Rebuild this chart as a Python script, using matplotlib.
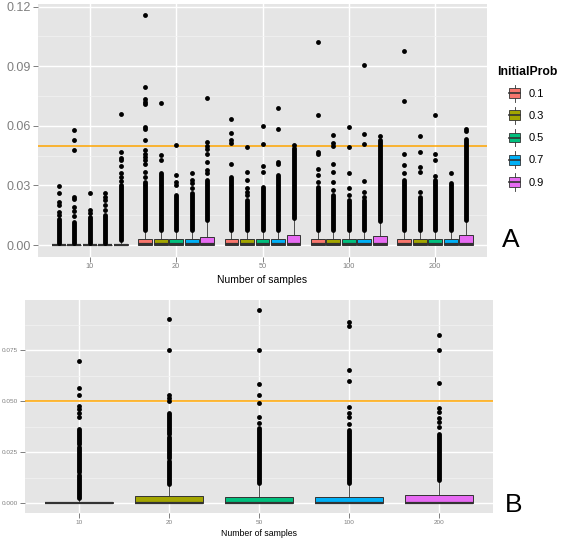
import matplotlib
matplotlib.use('Agg')
import matplotlib.pyplot as plt
from matplotlib.patches import Rectangle, Patch
from matplotlib.lines import Line2D
from matplotlib.legend_handler import HandlerBase
import numpy as np

plt.rcParams['font.family'] = ['Liberation Sans', 'DejaVu Sans']

sample_sizes = ['10', '20', '50', '100', '200']
init_probs = ['0.1', '0.3', '0.5', '0.7', '0.9']
threshold = 0.05

# ---- panel A: rows = number of samples, cols = InitialProb ----
a_med = [
    [0.0, 0.0, 0.0, 0.0, 0.0002],
    [0.0004, 0.0004, 0.0004, 0.0004, 0.0006],
    [0.0004, 0.0004, 0.0004, 0.0004, 0.0006],
    [0.0004, 0.0004, 0.0004, 0.0004, 0.0006],
    [0.0004, 0.0004, 0.0004, 0.0004, 0.0006],
]
a_q3 = [
    [0.0, 0.0, 0.0, 0.0, 0.0007],
    [0.0030, 0.0030, 0.0030, 0.0030, 0.0042],
    [0.0030, 0.0030, 0.0030, 0.0030, 0.0050],
    [0.0030, 0.0030, 0.0030, 0.0030, 0.0045],
    [0.0030, 0.0030, 0.0030, 0.0030, 0.0048],
]
a_whishi = [
    [0.0, 0.0, 0.0, 0.0, 0.0017],
    [0.0068, 0.0068, 0.0068, 0.0068, 0.0115],
    [0.0068, 0.0068, 0.0068, 0.0068, 0.0125],
    [0.0068, 0.0068, 0.0068, 0.0068, 0.0110],
    [0.0068, 0.0068, 0.0068, 0.0068, 0.0115],
]
# runs of outliers so dense that the dots merge into a column
a_dense = [
    [[(0.0008, 0.0130)], [(0.0008, 0.0117)], [(0.0008, 0.0142)], [(0.0008, 0.0150)], [(0.0025, 0.0300)]],
    [[(0.0076, 0.0318)], [(0.0076, 0.0360)], [(0.0076, 0.0250)], [(0.0076, 0.0260)], [(0.0125, 0.0326)]],
    [[(0.0076, 0.0343)], [(0.0076, 0.0226)], [(0.0076, 0.0293)], [(0.0076, 0.0351)], [(0.0135, 0.0490)]],
    [[(0.0076, 0.0293)], [(0.0076, 0.0250)], [(0.0076, 0.0226)], [(0.0076, 0.0226)], [(0.0120, 0.0530)]],
    [[(0.0076, 0.0326)], [(0.0076, 0.0243)], [(0.0076, 0.0326)], [(0.0076, 0.0313)], [(0.0125, 0.0535)]],
]
a_sparse = [
    [[0.0296, 0.026, 0.0215, 0.020, 0.0167, 0.015],
     [0.058, 0.053, 0.0477, 0.0243, 0.023, 0.019, 0.017, 0.0145],
     [0.026, 0.0176, 0.016],
     [0.026, 0.024, 0.0226, 0.020, 0.0176],
     [0.066, 0.0469, 0.044, 0.0427, 0.040, 0.036, 0.034, 0.032]],
    [[0.1155, 0.0795, 0.0735, 0.072, 0.0708, 0.0594, 0.0586, 0.0527, 0.0477,
      0.046, 0.0443, 0.0427, 0.041, 0.0368, 0.0343],
     [0.0716, 0.0452, 0.043],
     [0.0502, 0.0351, 0.0318, 0.030],
     [0.036, 0.0326, 0.031, 0.0285],
     [0.0741, 0.0519, 0.050, 0.0485, 0.046, 0.042, 0.038, 0.036]],
    [[0.0636, 0.0564, 0.0527, 0.0514, 0.041],
     [0.0494, 0.0368, 0.0326, 0.0285, 0.0265, 0.025],
     [0.0599, 0.051, 0.0397, 0.0368],
     [0.0691, 0.0586, 0.042, 0.041],
     [0.0502]],
    [[0.102, 0.0653, 0.0469, 0.0457, 0.0385, 0.0351, 0.0318],
     [0.0556, 0.0514, 0.0497, 0.041, 0.0365, 0.0318, 0.0276],
     [0.0592, 0.0494, 0.036, 0.0285, 0.025],
     [0.0904, 0.0557, 0.051, 0.0323, 0.0268, 0.0243],
     [0.0548]],
    [[0.0976, 0.0725, 0.0457, 0.0402, 0.036],
     [0.0547, 0.0469, 0.0393, 0.0368, 0.0268],
     [0.0653, 0.046, 0.0427, 0.0346],
     [0.036],
     [0.0586, 0.0572]],
]

# ---- panel B: one box per number of samples ----
b_med = [0.0, 0.0003, 0.0003, 0.0003, 0.0004]
b_q3 = [0.0007, 0.0034, 0.0032, 0.0032, 0.0040]
b_whishi = [0.0018, 0.0088, 0.0090, 0.0093, 0.0103]
b_dense = [
    [(0.0025, 0.0137), (0.0152, 0.0275), (0.0290, 0.0363)],
    [(0.0095, 0.0205), (0.0220, 0.0324), (0.0340, 0.0441)],
    [(0.0098, 0.0368)],
    [(0.0100, 0.0359)],
    [(0.0112, 0.0342)],
]
b_sparse = [
    [0.0696, 0.0564, 0.0529, 0.0475, 0.046, 0.0441, 0.0422],
    [0.0905, 0.075, 0.0529, 0.0518, 0.050],
    [0.0949, 0.075, 0.0583, 0.0529, 0.049, 0.0421, 0.0392],
    [0.0889, 0.0869, 0.0652, 0.0598, 0.0473, 0.0443, 0.0424, 0.039],
    [0.0823, 0.075, 0.059, 0.0465, 0.0448, 0.0416, 0.040, 0.0375],
]

hue_colors = ['#F8766D', '#A3A500', '#00BF7D', '#00B0F6', '#E76BF3']
PANEL_BG = '#E5E5E5'
DARK = '#333333'
GREY = '#7F7F7F'
DOT = 3.5


def style_panel(ax, yticks, yfmt, ysize, xsize):
    ax.set_facecolor(PANEL_BG)
    for s in ax.spines.values():
        s.set_visible(False)
    ax.set_xlim(0.4, 5.6)
    ax.set_xticks(range(1, 6))
    ax.set_xticklabels(sample_sizes)
    ax.set_yticks(yticks)
    ax.set_yticklabels([yfmt.format(v) for v in yticks])
    step = yticks[1] - yticks[0]
    ax.set_yticks([v + step / 2 for v in yticks], minor=True)
    ax.grid(which='major', color='white', lw=1.0)
    ax.grid(which='minor', axis='y', color='#F2F2F2', lw=0.5)
    ax.set_axisbelow(True)
    ax.tick_params(which='minor', length=0)
    ax.tick_params(which='major', color=GREY, labelcolor=GREY, length=3.5, width=0.7, pad=1.5)
    ax.tick_params(axis='y', labelsize=ysize)
    ax.tick_params(axis='x', labelsize=xsize)
    ax.set_xlabel('Number of samples', fontsize=7.5, labelpad=3)
    ax.axhline(threshold, color='#FFA500', lw=1.1, zorder=1.5)


def draw_boxes(ax, positions, meds, q3s, whis, fliers, dense, colors, width):
    stats = []
    for m, q3, wh, fl in zip(meds, q3s, whis, fliers):
        stats.append(dict(med=m, q1=0.0, q3=q3, whislo=0.0, whishi=wh, fliers=fl))
    bp = ax.bxp(stats, positions=positions, widths=width, patch_artist=True,
                showcaps=False,
                boxprops=dict(edgecolor=DARK, lw=0.7),
                medianprops=dict(color=DARK, lw=1.6),
                whiskerprops=dict(color=DARK, lw=0.6),
                flierprops=dict(marker='o', markerfacecolor='black',
                                markeredgecolor='none', markersize=DOT))
    for patch, c in zip(bp['boxes'], colors):
        patch.set_facecolor(c)
    for x, runs in zip(positions, dense):
        for lo, hi in runs:
            ax.vlines(x, lo, hi, colors='black', lw=DOT, capstyle='round', zorder=3)


def set_ylim(ax, fliers):
    ymax = max(max(f) for f in fliers)
    ax.set_ylim(-0.05 * ymax, 1.05 * ymax)


class BoxKey(HandlerBase):
    def create_artists(self, legend, orig_handle, xdescent, ydescent,
                       width, height, fontsize, trans):
        fc = orig_handle.get_facecolor()
        x0, y0 = -xdescent, -ydescent
        cx = x0 + width / 2
        bw, bh = width * 0.7, height * 0.58
        whisker = Line2D([cx, cx], [y0, y0 + height], color=DARK, lw=0.6, transform=trans)
        box = Rectangle((cx - bw / 2, y0 + (height - bh) / 2), bw, bh,
                        facecolor=fc, edgecolor=DARK, lw=0.6, transform=trans)
        med = Line2D([cx - bw / 2, cx + bw / 2], [y0 + height / 2] * 2,
                     color=DARK, lw=1.2, transform=trans)
        return [whisker, box, med]


fig = plt.figure(figsize=(5.67, 5.4), dpi=100)
W, H = 567.0, 540.0

# panel A
axA = fig.add_axes([38 / W, 1 - 256.5 / H, 449 / W, 252.5 / H])
style_panel(axA, [0.0, 0.03, 0.06, 0.09, 0.12], '{:.2f}', 9, 5.3)
dodge = 0.18
for i in range(len(sample_sizes)):
    pos = [i + 1 + (j - 2) * dodge for j in range(len(init_probs))]
    draw_boxes(axA, pos, a_med[i], a_q3[i], a_whishi[i], a_sparse[i],
               a_dense[i], hue_colors, 0.16)
set_ylim(axA, [f for row in a_sparse for f in row])
axA.set_xlim(0.4, 5.6)
axA.set_xticks(range(1, 6))
axA.set_xticklabels(sample_sizes)

# panel B
axB = fig.add_axes([25 / W, 1 - 513 / H, 468 / W, 213 / H])
style_panel(axB, [0.0, 0.025, 0.05, 0.075], '{:.3f}', 4.6, 4.6)
draw_boxes(axB, list(range(1, 6)), b_med, b_q3, b_whishi, b_sparse,
           b_dense, hue_colors, 0.75)
set_ylim(axB, b_sparse)
axB.set_xlim(0.4, 5.6)
axB.set_xticks(range(1, 6))
axB.set_xticklabels(sample_sizes)
axB.set_xlabel('Number of samples', fontsize=6.3, labelpad=3)

# legend
handles = [Patch(facecolor=c) for c in hue_colors]
fig.text(497 / W, 1 - 72 / H, 'InitialProb', fontsize=8.8, fontweight='bold', va='center')
fig.legend(handles, init_probs, handler_map={Patch: BoxKey()}, loc='upper left',
           bbox_to_anchor=(506 / W, 1 - 84.5 / H), frameon=False, fontsize=8,
           handlelength=1.53, handleheight=1.98, labelspacing=0.47,
           handletextpad=0.54, borderpad=0, borderaxespad=0)

fig.text(511 / W, 1 - 240 / H, 'A', fontsize=19, ha='center', va='center')
fig.text(514 / W, 1 - 505 / H, 'B', fontsize=19, ha='center', va='center')

fig.savefig('out.png', dpi=100)
